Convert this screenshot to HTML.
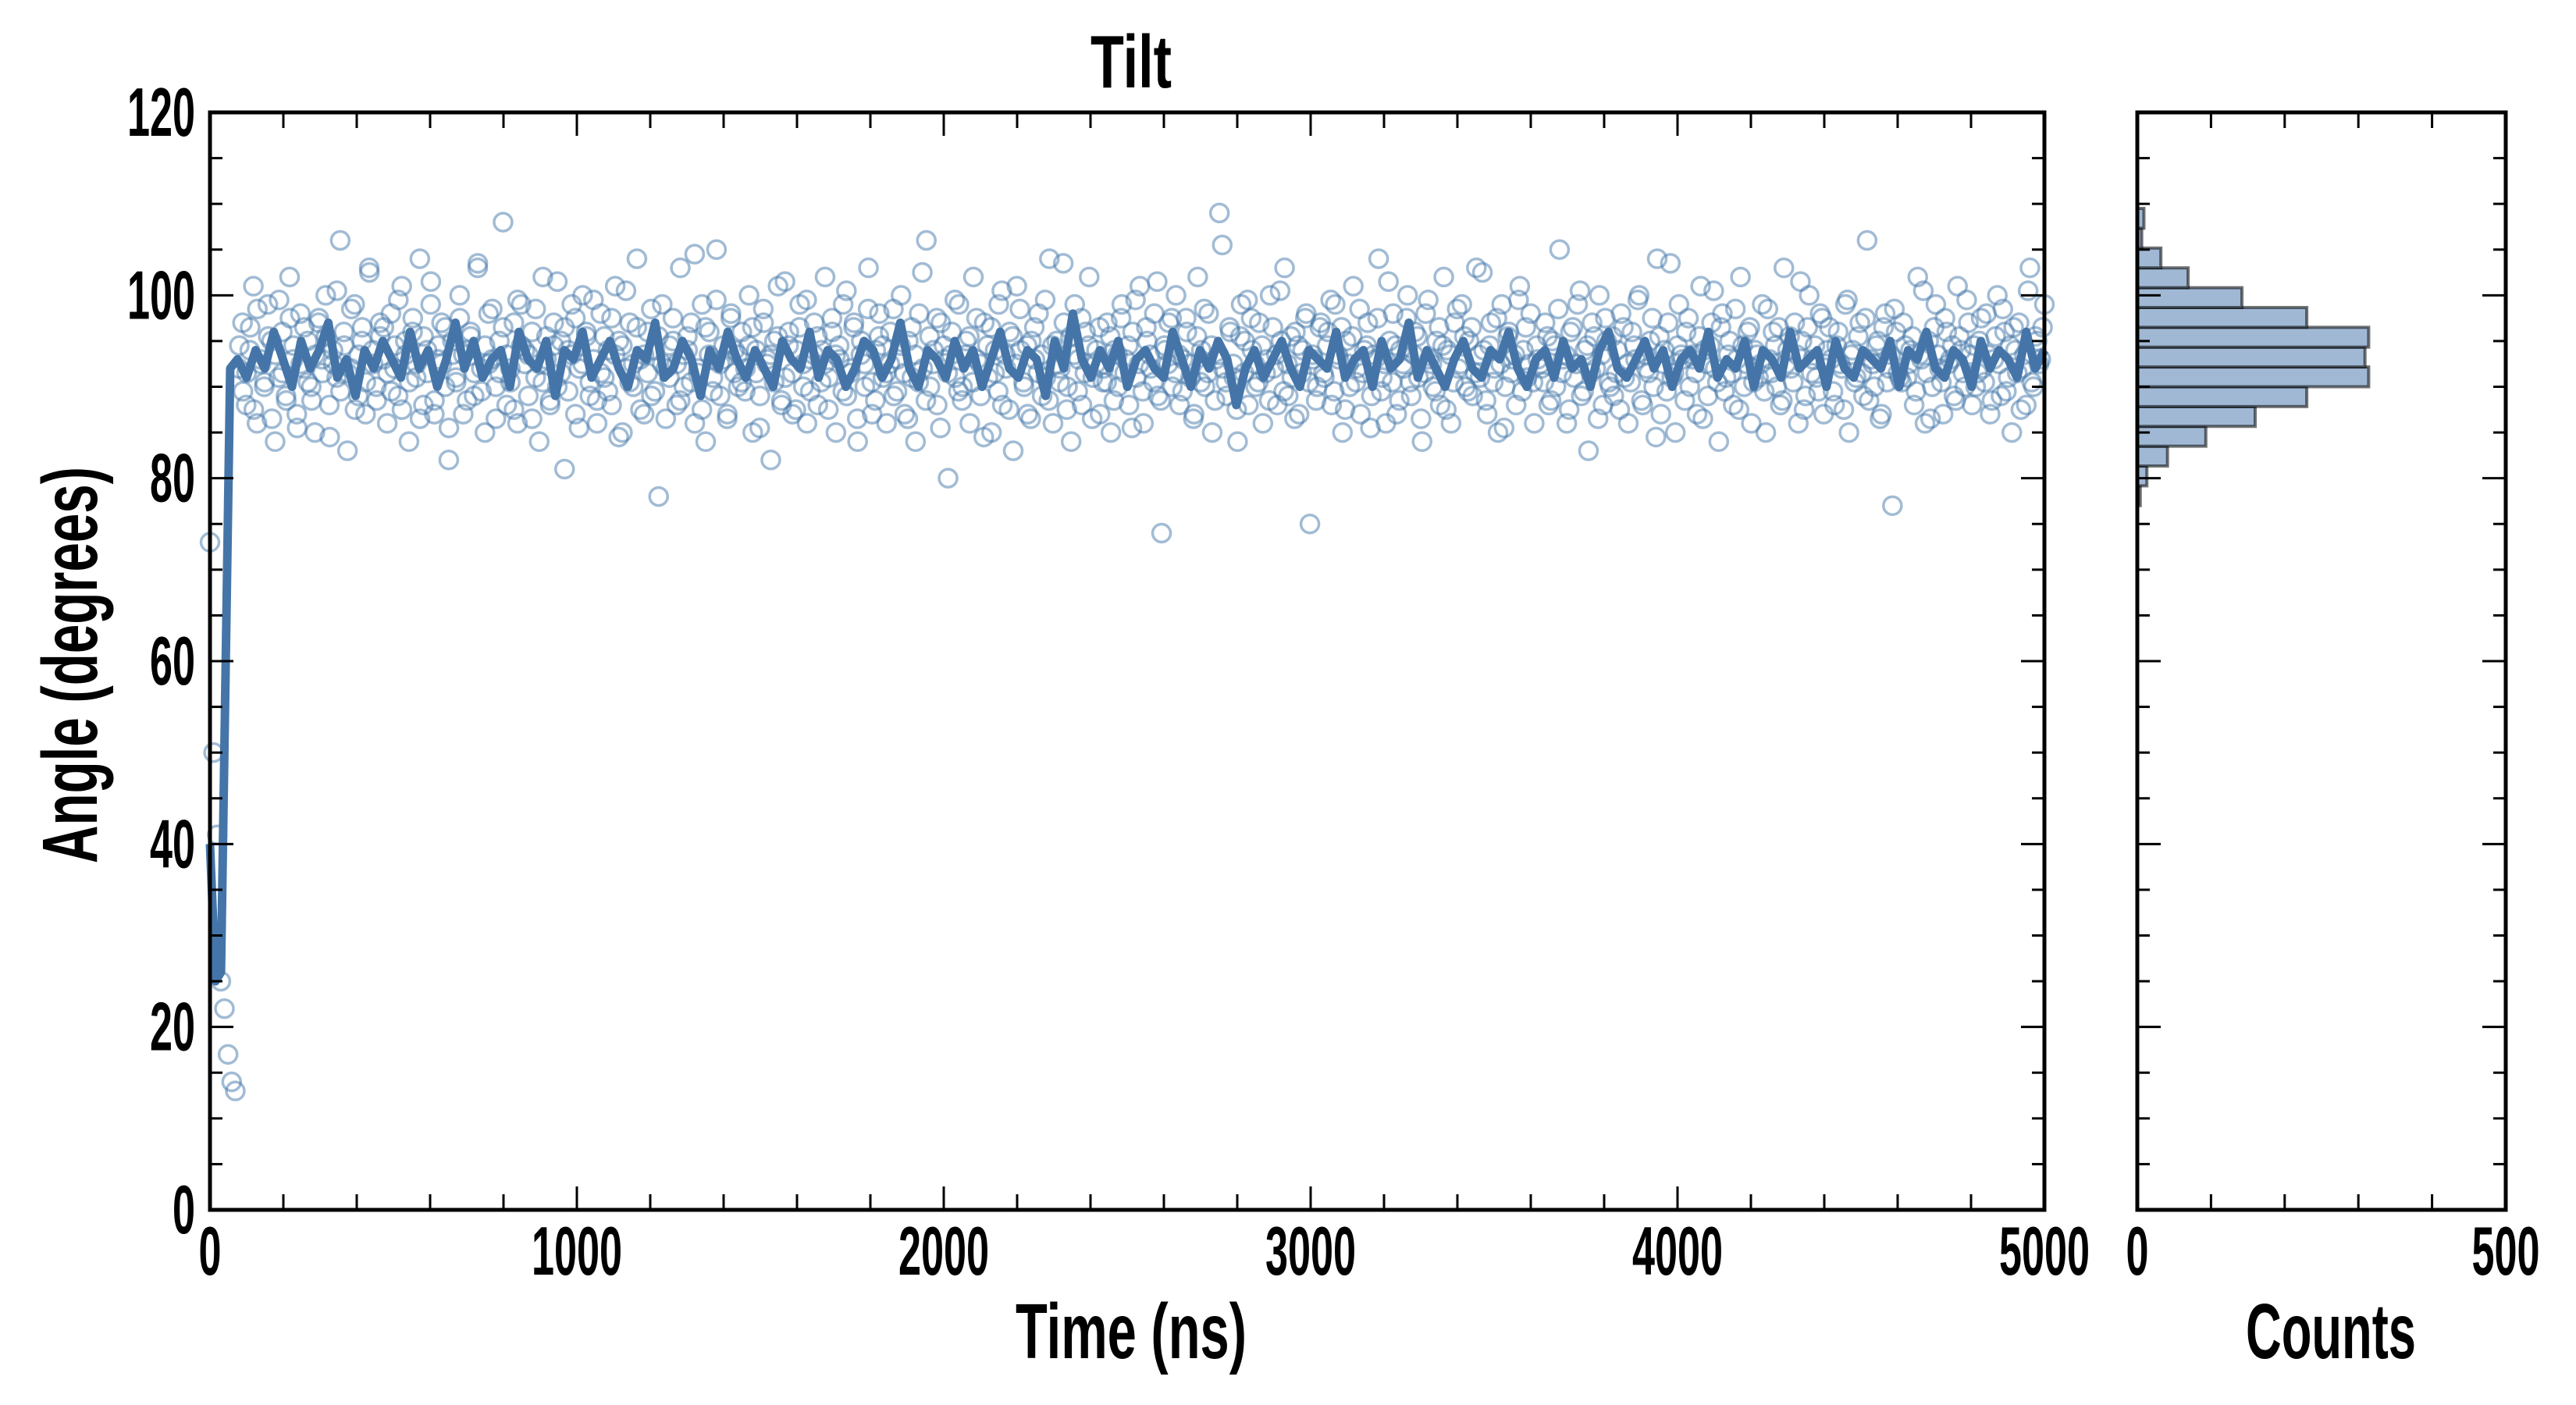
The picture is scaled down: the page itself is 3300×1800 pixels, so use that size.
<!DOCTYPE html>
<html><head><meta charset="utf-8"><style>
html,body{margin:0;padding:0;background:#fff;width:3300px;height:1800px;overflow:hidden}
svg text{font-family:"Liberation Sans Narrow","Liberation Sans",sans-serif;font-weight:bold;fill:#000}
</style></head><body>
<svg id="chart" width="3300" height="1800" viewBox="0 0 3300 1800" xmlns="http://www.w3.org/2000/svg">
<g id="scatterLayer"></g>
<g id="lineLayer"></g>
<g id="histLayer"></g>
<g id="axesLayer"></g>
<text x="1449" y="112" font-size="96" text-anchor="middle" textLength="104" lengthAdjust="spacingAndGlyphs">Tilt</text>
<text x="1449" y="1740" font-size="100" text-anchor="middle" textLength="296" lengthAdjust="spacingAndGlyphs">Time (ns)</text>
<text x="2986" y="1740" font-size="100" text-anchor="middle" textLength="218" lengthAdjust="spacingAndGlyphs">Counts</text>
<text transform="translate(124,852) rotate(-90)" font-size="100" text-anchor="middle" textLength="508" lengthAdjust="spacingAndGlyphs">Angle (degrees)</text>
</svg>
<script>
const xTicks=[0,1000,2000,3000,4000,5000];
const yTicks=[0,20,40,60,80,100,120];
const histXTicks=[0,500];
const histCounts=[4,13,41,93,160,230,314,309,314,230,142,69,32,6,9];
const histEdgeStart=77, histEdgeEnd=109.5;
const lineStartTimes=[0,15,30,55];
const lineStartValues=[40,25,26,92];
const lineValues=[93,91,94,92,96,93,90,95,92,94,97,91,93,89,94,92,95,93,91,96,
92,94,90,93,97,92,95,91,93,94,90,96,93,92,95,89,94,93,96,91,
93,95,92,90,94,93,97,91,92,95,93,89,94,92,96,93,91,94,92,90,
95,93,92,96,91,94,93,90,92,95,94,91,93,97,92,90,94,93,91,95,
92,94,90,93,96,92,91,94,93,89,95,92,98,93,91,94,92,95,90,93,
94,92,91,96,93,90,94,92,95,93,88,92,94,91,93,95,92,90,94,93,
92,96,91,93,94,90,95,92,93,97,91,94,92,90,93,95,92,91,94,93,
96,92,90,93,94,91,95,92,93,90,94,96,92,91,93,95,92,94,90,93,
94,92,96,91,93,92,95,90,94,93,91,96,92,93,94,90,95,92,91,94,
93,92,95,90,94,93,96,92,91,94,93,90,95,92,94,93,91,96,92,94];
const scatterValues=[73,50,41,25,22,17,14,13,
92,97,88,94,101,86,93,90,99,95,84,91,96,89,102,93,87,98,92,95,
90,85,97,93,100,88,94,91,106,96,83,92,99,89,95,87,103,94,90,97,
93,86,98,92,89,101,95,84,96,91,104,88,94,99,87,93,97,90,82,95,
91,100,87,94,96,89,103,92,85,98,93,90,95,108,88,92,97,86,99,94,
89,96,91,84,102,93,88,97,90,95,81,94,99,87,92,100,96,89,93,86,
98,91,94,88,101,95,85,92,97,90,104,93,87,96,89,94,78,99,92,91,
95,88,103,90,94,97,86,92,99,84,96,91,105,89,93,87,98,94,90,96,
92,100,85,94,89,97,93,82,95,101,88,91,96,87,94,99,90,86,93,97,
88,94,102,91,96,85,93,99,89,92,97,84,95,90,103,87,94,98,91,86,
96,89,93,100,87,95,91,84,98,92,106,90,94,88,97,93,80,96,91,99,
90,95,86,102,93,89,97,91,85,94,99,88,92,96,83,101,94,90,87,95,
93,98,89,91,104,86,95,92,97,90,84,99,93,88,96,102,91,94,87,92,
97,85,94,90,99,93,88,96,91,101,86,95,92,98,89,74,94,97,90,100,
88,93,96,91,87,102,94,90,98,85,93,109,92,89,96,91,84,99,95,88,
94,90,97,86,93,100,92,88,95,103,89,91,96,87,94,98,75,93,90,97,
91,96,88,99,93,85,95,90,101,92,87,94,97,89,93,104,91,86,95,98,
87,94,92,100,89,96,91,84,98,93,90,95,88,102,94,86,97,92,99,90,
95,89,103,91,94,87,97,92,85,99,90,96,93,88,101,94,91,98,86,93,
92,97,88,95,90,105,93,86,96,91,99,89,94,83,97,92,100,88,95,90,
89,94,98,91,86,96,93,100,88,92,95,90,104,87,94,97,91,85,99,93,
96,90,93,87,101,94,89,97,92,84,98,91,95,88,93,102,90,96,86,94,
91,99,85,93,96,90,88,103,94,92,97,86,95,89,100,93,91,98,87,94,
93,88,96,92,99,85,94,91,97,89,106,93,90,95,87,98,92,77,96,91,
97,91,94,88,102,93,86,95,90,99,92,87,96,93,89,101,94,90,97,88,
90,95,92,98,87,93,100,89,96,91,85,94,97,92,88,103,90,95,93,99];
const scatterValuesB=[
94.5,89.5,91.5,96.5,87.5,98.5,92.5,90.5,95.5,86.5,93.5,99.5,91.5,88.5,97.5,94.5,85.5,92.5,96.5,90.5,
88.5,93.5,97.5,91.5,95.5,84.5,92.5,100.5,89.5,94.5,91.5,98.5,87.5,93.5,96.5,90.5,102.5,92.5,88.5,95.5,
96.5,91.5,89.5,94.5,99.5,87.5,93.5,90.5,97.5,92.5,86.5,95.5,91.5,101.5,88.5,94.5,92.5,96.5,85.5,93.5,
90.5,97.5,93.5,88.5,95.5,91.5,103.5,89.5,94.5,92.5,98.5,86.5,91.5,96.5,93.5,90.5,87.5,99.5,94.5,92.5,
93.5,86.5,98.5,92.5,90.5,95.5,88.5,94.5,101.5,91.5,96.5,89.5,93.5,97.5,85.5,92.5,95.5,90.5,99.5,88.5,
91.5,95.5,89.5,97.5,93.5,84.5,94.5,100.5,90.5,92.5,96.5,87.5,93.5,91.5,98.5,89.5,95.5,92.5,86.5,94.5,
97.5,92.5,88.5,93.5,95.5,90.5,104.5,91.5,87.5,96.5,93.5,89.5,99.5,92.5,94.5,86.5,97.5,91.5,93.5,90.5,
89.5,94.5,96.5,91.5,85.5,98.5,92.5,93.5,90.5,95.5,88.5,101.5,94.5,91.5,87.5,96.5,92.5,99.5,89.5,93.5,
95.5,90.5,92.5,87.5,97.5,93.5,94.5,89.5,100.5,91.5,96.5,86.5,93.5,92.5,98.5,90.5,88.5,95.5,94.5,91.5,
92.5,98.5,89.5,94.5,91.5,86.5,96.5,93.5,90.5,102.5,88.5,95.5,92.5,97.5,85.5,94.5,91.5,93.5,99.5,89.5,
88.5,93.5,95.5,90.5,97.5,92.5,84.5,94.5,96.5,91.5,89.5,100.5,93.5,87.5,95.5,92.5,98.5,90.5,94.5,86.5,
96.5,91.5,93.5,99.5,88.5,94.5,92.5,90.5,103.5,87.5,95.5,93.5,89.5,97.5,91.5,94.5,86.5,92.5,96.5,90.5,
90.5,95.5,88.5,93.5,97.5,91.5,94.5,85.5,99.5,92.5,89.5,96.5,93.5,90.5,101.5,88.5,94.5,92.5,97.5,91.5,
93.5,89.5,97.5,92.5,86.5,95.5,90.5,98.5,91.5,94.5,88.5,93.5,105.5,90.5,96.5,92.5,87.5,95.5,91.5,99.5,
97.5,92.5,90.5,94.5,91.5,88.5,96.5,93.5,100.5,89.5,92.5,95.5,86.5,94.5,91.5,97.5,90.5,93.5,88.5,96.5,
91.5,94.5,99.5,89.5,93.5,96.5,87.5,92.5,95.5,90.5,98.5,91.5,94.5,85.5,93.5,97.5,89.5,92.5,101.5,90.5,
94.5,88.5,92.5,97.5,90.5,93.5,95.5,86.5,91.5,99.5,92.5,89.5,96.5,94.5,87.5,93.5,90.5,98.5,92.5,95.5,
89.5,96.5,91.5,93.5,102.5,88.5,94.5,90.5,97.5,92.5,85.5,95.5,91.5,93.5,99.5,89.5,96.5,92.5,90.5,94.5,
92.5,90.5,95.5,88.5,94.5,98.5,91.5,93.5,87.5,96.5,92.5,100.5,89.5,94.5,91.5,95.5,86.5,93.5,97.5,90.5,
95.5,91.5,87.5,96.5,92.5,90.5,94.5,99.5,88.5,93.5,91.5,97.5,84.5,95.5,92.5,89.5,103.5,91.5,94.5,93.5,
88.5,97.5,93.5,91.5,95.5,86.5,92.5,94.5,100.5,90.5,96.5,89.5,93.5,91.5,98.5,87.5,94.5,92.5,96.5,90.5,
93.5,92.5,89.5,98.5,91.5,94.5,96.5,88.5,92.5,95.5,90.5,93.5,101.5,87.5,96.5,91.5,94.5,89.5,97.5,92.5,
96.5,89.5,94.5,92.5,87.5,99.5,93.5,90.5,95.5,91.5,97.5,88.5,92.5,94.5,86.5,96.5,90.5,93.5,98.5,91.5,
90.5,94.5,92.5,95.5,89.5,93.5,100.5,91.5,86.5,96.5,93.5,90.5,97.5,92.5,94.5,88.5,95.5,91.5,99.5,93.5,
94.5,91.5,97.5,90.5,93.5,88.5,95.5,92.5,98.5,89.5,94.5,96.5,91.5,87.5,93.5,100.5,90.5,95.5,92.5,96.5];

const NS="http://www.w3.org/2000/svg";
const L=269,R=2619,T=144,B=1550, HL=2738,HR=3210;
const xScale=t=>L+(t/5000)*(R-L);
const yScale=v=>B-(v/120)*(B-T);
const hxScale=c=>HL+(c/500)*(HR-HL);
function mk(tag,attrs,parent){const e=document.createElementNS(NS,tag);for(const k in attrs)e.setAttribute(k,attrs[k]);parent.appendChild(e);return e;}

const sc=document.getElementById('scatterLayer');
function drawScatter(vals,t0,t1){
  vals.forEach((v,i)=>{
    const c=mk('circle',{cx:xScale(t0+i*(t1-t0)/(vals.length-1)),cy:yScale(v),r:11.5,fill:'none',stroke:'rgba(68,119,170,0.5)','stroke-width':3.5},sc);
    
    
  });
}
drawScatter(scatterValues,0,5000);
drawScatter(scatterValuesB,80,4995);
const lt=lineStartTimes.slice(), lv=lineStartValues.slice();
lineValues.forEach((v,i)=>{lt.push(75+i*4925/(lineValues.length-1));lv.push(v);});
const p=mk('path',{d:lt.map((t,i)=>(i?'L':'M')+xScale(t).toFixed(1)+','+yScale(lv[i]).toFixed(1)).join(''),fill:'none',stroke:'#4575a8','stroke-width':11,'stroke-linejoin':'round'},document.getElementById('lineLayer'));



const hl=document.getElementById('histLayer');
const bw=(histEdgeEnd-histEdgeStart)/histCounts.length;
histCounts.forEach((c,i)=>{
  const y0=yScale(histEdgeStart+(i+1)*bw), y1=yScale(histEdgeStart+i*bw);
  const r=mk('rect',{x:HL,y:y0,width:hxScale(c)-HL,height:y1-y0,fill:'#a0b8d4',stroke:'rgba(0,0,0,0.55)','stroke-width':4},hl);
  
  
});

const ax=document.getElementById('axesLayer');
function frame(x0,x1,name){const r=mk('rect',{x:x0,y:T,width:x1-x0,height:B-T,fill:'none',stroke:'#000','stroke-width':5},ax);

}
frame(L,R,'main-plot-frame');frame(HL,HR,'hist-plot-frame');
function ln(x1,y1,x2,y2){mk('line',{x1,y1,x2,y2,stroke:'#000','stroke-width':3},ax);}
for(let t=0;t<=5000;t+=200){const x=xScale(t),len=t%1000===0?30:20;ln(x,B,x,B-len);ln(x,T,x,T+len);}
for(let v=0;v<=120;v+=5){const y=yScale(v),len=v%20===0?30:16;ln(L,y,L+len,y);ln(R,y,R-len,y);ln(HL,y,HL+len,y);ln(HR,y,HR-len,y);}
for(let c=0;c<=500;c+=100){const x=hxScale(c),len=c%500===0?30:20;ln(x,B,x,B-len);ln(x,T,x,T+len);}
function label(x,y,s,anchor,name){const t=mk('text',{x,y,'font-size':88,'text-anchor':anchor,textLength:s.length*29,lengthAdjust:'spacingAndGlyphs'},ax);t.textContent=s;

}
xTicks.forEach(t=>label(xScale(t),1633,String(t),'middle','x-tick-label'));
yTicks.forEach(v=>label(250,yScale(v)+30,String(v),'end','y-tick-label'));
histXTicks.forEach(c=>label(hxScale(c),1633,String(c),'middle','hist-x-tick-label'));
</script>
</body></html>
